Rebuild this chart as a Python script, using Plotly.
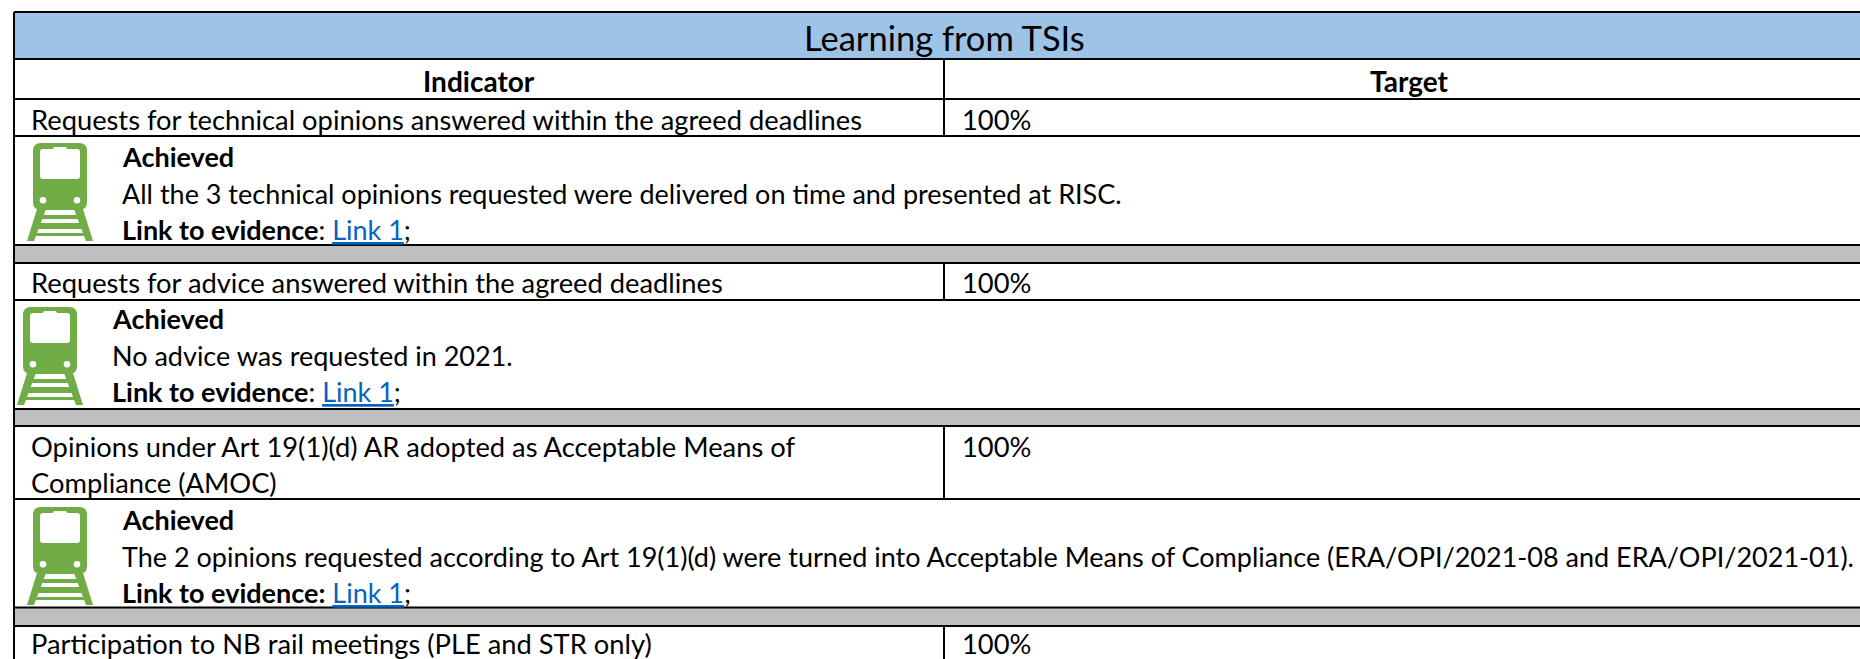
import plotly.graph_objects as go

WIDTH, HEIGHT = 1860, 659
FONT = "Lato"
BODY = 27
ROW = 27.3
BLUE = "#9dc3e6"
GRAY = "#bfbfbf"
GREEN = "#70ad47"
LINK = "#0563c1"

title = "Learning from TSIs"
column_headers = ["Indicator", "Target"]
indicators = [
    "Requests for technical opinions answered within the agreed deadlines",
    "Requests for advice answered within the agreed deadlines",
    "Opinions under Art 19(1)(d) AR adopted as Acceptable Means of",
    "Participation to NB rail meetings (PLE and STR only)",
]
indicator_extra = "Compliance (AMOC)"
targets = ["100%", "100%", "100%", "100%"]
statuses = ["Achieved", "Achieved", "Achieved"]
comments = [
    "All the 3 technical opinions requested were delivered on time and presented at RISC.",
    "No advice was requested in 2021.",
    "The 2 opinions requested according to Art 19(1)(d) were turned into Acceptable Means of Compliance (ERA/OPI/2021-08 and ERA/OPI/2021-01).",
]
evidence = [
    "<b>Link to evidence</b>: ",
    "<b>Link to evidence</b>: ",
    "<b>Link to evidence:</b> ",
]
link_label = "Link 1"

left, right, divider = 14, 1860, 944
h_lines = [12, 59, 99, 136, 245, 263, 300, 409, 426, 499, 607.5, 626]
divider_spans = [(59, 136), (263, 300), (426, 499), (626, 659)]
gray_bands = [(245, 263), (409, 426), (607.5, 626)]
indicator_y = [119, 282, 446, 643]
indicator_extra_y = 482
block_y = [(156, 193, 229), (318, 355, 391), (519, 556, 592)]
block_text_x = [120, 110, 120]
icon_pos = [(33, 143), (23, 307), (33, 507)]

shapes = []


def rect(x0, y0, x1, y1, color):
    shapes.append(dict(type="rect", x0=x0, y0=y0, x1=x1, y1=y1,
                       fillcolor=color, line_width=0, layer="below"))


def path(d, color):
    shapes.append(dict(type="path", path=d, fillcolor=color, line_width=0, layer="below"))


def rounded(x0, y0, x1, y1, r):
    return (f"M{x0+r},{y0} L{x1-r},{y0} Q{x1},{y0} {x1},{y0+r} L{x1},{y1-r} Q{x1},{y1} {x1-r},{y1} "
            f"L{x0+r},{y1} Q{x0},{y1} {x0},{y1-r} L{x0},{y0+r} Q{x0},{y0} {x0+r},{y0} Z")


def train(x, y):
    path(f"M{x+4},{y+66} L{x+13},{y+66} L{x+1},{y+98} L{x-6},{y+98} Z", GREEN)
    path(f"M{x+41},{y+66} L{x+50},{y+66} L{x+60},{y+98} L{x+53},{y+98} Z", GREEN)
    for top, l, r, h in [(y+72, 8, 46, 4), (y+80, 5, 49, 6), (y+90, 2, 52, 3)]:
        rect(x + l, top, x + r, top + h, GREEN)
    path(rounded(x, y, x + 54, y + 67, 8), GREEN)
    path(rounded(x + 7, y + 6, x + 47, y + 36, 3), "white")
    path(rounded(x + 20, y + 4, x + 34, y + 10, 2), "white")
    for cx in (x + 10, x + 44):
        shapes.append(dict(type="circle", x0=cx - 3.3, y0=y + 54, x1=cx + 3.3, y1=y + 60.6,
                           fillcolor="white", line_width=0, layer="below"))


rect(left, h_lines[0], right, h_lines[1], BLUE)
for y0, y1 in gray_bands:
    rect(left, y0, right, y1, GRAY)
for x, y in icon_pos:
    train(x, y)
for y in h_lines:
    shapes.append(dict(type="line", x0=left, x1=right, y0=y, y1=y,
                       line=dict(color="black", width=2)))
shapes.append(dict(type="line", x0=left, x1=left, y0=h_lines[0], y1=HEIGHT,
                   line=dict(color="black", width=2)))
for y0, y1 in divider_spans:
    shapes.append(dict(type="line", x0=divider, x1=divider, y0=y0, y1=y1,
                       line=dict(color="black", width=2)))

annotations = []


def text(x, y, s, size=BODY, anchor="left"):
    annotations.append(dict(x=x, y=y, text=s, showarrow=False, xanchor=anchor, yanchor="middle",
                            align="left", font=dict(family=FONT, size=size, color="black")))


text(944, 37, title, 34.5, "center")
text(479, 81, f"<b>{column_headers[0]}</b>", 28, "center")
text(1409, 81, f"<b>{column_headers[1]}</b>", 28, "center")
for name, target, y in zip(indicators, targets, indicator_y):
    text(29, y, name, ROW)
    text(960, y, target, ROW)
text(29, indicator_extra_y, indicator_extra, ROW)
for i, (y_a, y_c, y_l) in enumerate(block_y):
    x = block_text_x[i]
    text(x, y_a, f"<b>{statuses[i]}</b>")
    text(x, y_c, comments[i])
    text(x, y_l, f'{evidence[i]}<a href="#" style="color:{LINK}"><span style="color:{LINK}"><u>{link_label}</u></span></a>;')

fig = go.Figure()
fig.update_layout(
    width=WIDTH, height=HEIGHT, autosize=False,
    margin=dict(l=0, r=0, t=0, b=0),
    paper_bgcolor="white", plot_bgcolor="white", showlegend=False,
    xaxis=dict(range=[0, WIDTH], visible=False, fixedrange=True),
    yaxis=dict(range=[HEIGHT, 0], visible=False, fixedrange=True),
    shapes=shapes, annotations=annotations,
)
fig.write_html("out.html", config={"displayModeBar": False},
               post_script="document.body.style.margin='0';document.documentElement.style.overflow='hidden';")
